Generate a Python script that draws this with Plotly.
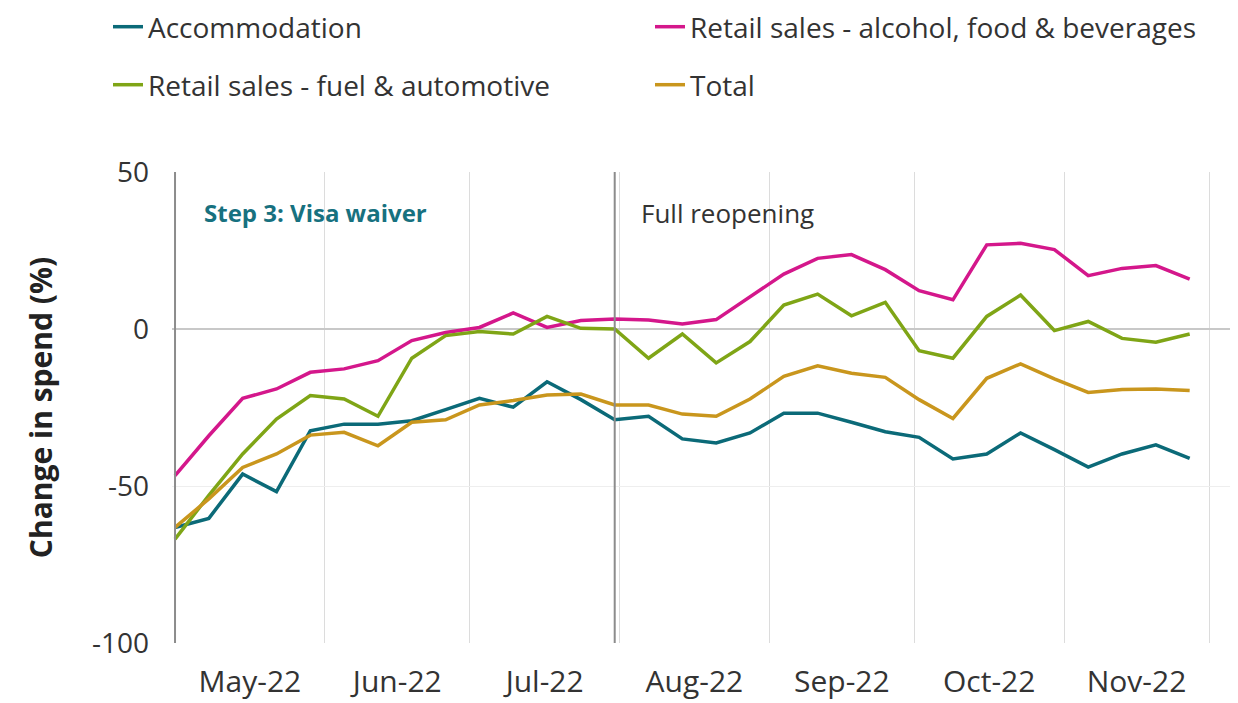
import pandas as pd
import plotly.graph_objects as go

dates = pd.date_range("2022-05-01", periods=31, freq="7D")

accommodation = [-63.2, -60.3, -46.2, -51.8, -32.4, -30.3, -30.3, -29.2, -25.7, -22.1,
                 -24.9, -16.8, -22.5, -28.9, -27.8, -35.0, -36.3, -33.1, -26.8, -26.8,
                 -29.7, -32.7, -34.5, -41.4, -39.8, -33.1, -38.4, -44.0, -39.8, -36.9, -41.2]
retail_food = [-46.7, -34.0, -22.1, -19.1, -13.8, -12.7, -10.1, -3.7, -1.1, 0.5,
               5.1, 0.5, 2.7, 3.2, 2.9, 1.6, 3.0, 10.1, 17.5, 22.5,
               23.7, 18.9, 12.2, 9.3, 26.8, 27.3, 25.3, 17.0, 19.3, 20.2, 15.9]
retail_fuel = [-66.9, -53.0, -39.8, -28.7, -21.2, -22.3, -27.8, -9.3, -2.1, -0.8,
               -1.6, 4.0, 0.2, 0.0, -9.3, -1.6, -10.8, -4.0, 7.6, 11.1,
               4.2, 8.5, -6.9, -9.3, 4.0, 10.8, -0.5, 2.4, -3.0, -4.2, -1.6]
total = [-63.2, -54.1, -44.1, -39.8, -33.8, -32.9, -37.2, -29.7, -28.9, -24.2,
         -22.8, -21.0, -20.7, -24.2, -24.2, -27.1, -27.8, -22.3, -15.1, -11.7,
         -14.1, -15.4, -22.5, -28.5, -15.7, -11.1, -15.9, -20.2, -19.3, -19.1, -19.6]

series_names = ["Accommodation", "Retail sales - alcohol, food & beverages",
                "Retail sales - fuel & automotive", "Total"]
series_values = [accommodation, retail_food, retail_fuel, total]
series_colors = ["#0b6a78", "#d4178b", "#7fa516", "#c9961d"]

y_tick_vals = [-100, -50, 0, 50]
y_tick_text = ["-100", "-50", "0", "50"]

event_dates = ["2022-05-01", "2022-07-31"]
event_labels = ["<b>Step 3: Visa waiver</b>", "Full reopening"]
event_label_colors = ["#17717f", "#333333"]
event_label_shift = [27, 24]
event_label_size = [24, 26]

FONT = "Open Sans"
W, H = 1238, 703
OFF = 8  # page body offset

# legend slot positions (container px): x of legend box, y of row centre
legend_pos = [(100, 27 - OFF), (642, 27 - OFF), (100, 85 - OFF), (642, 85 - OFF)]
legend_ids = ["legend", "legend2", "legend3", "legend4"]

fig = go.Figure()
for name, vals, col, lg in zip(series_names, series_values, series_colors, legend_ids):
    fig.add_trace(go.Scatter(x=dates, y=vals, mode="lines", name=name,
                             line=dict(color=col, width=3.5), legend=lg,
                             showlegend=True))

for d, lab, c, sh, sz in zip(event_dates, event_labels, event_label_colors,
                             event_label_shift, event_label_size):
    fig.add_shape(type="line", x0=d, x1=d, xref="x", y0=0, y1=1, yref="paper",
                  line=dict(color="#8c8c8c", width=2), layer="above")
    fig.add_annotation(x=d, y=0.913, xref="x", yref="paper", text=lab, showarrow=False,
                       xanchor="left", yanchor="middle", xshift=sh,
                       font=dict(family=FONT, size=sz, color=c))

legends = {}
for lid, (lx, ly) in zip(legend_ids, legend_pos):
    legends[lid] = dict(orientation="h", xref="container", yref="container",
                        x=lx / W, y=1 - ly / H, xanchor="left", yanchor="middle",
                        font=dict(family=FONT, size=28, color="#333333"),
                        bgcolor="rgba(0,0,0,0)")

fig.update_layout(
    width=W, height=H, showlegend=True,
    margin=dict(l=172 - OFF, r=OFF, t=172 - OFF, b=60 + OFF, autoexpand=False),
    paper_bgcolor="white", plot_bgcolor="white",
    font=dict(family=FONT, color="#333333"),
    **legends,
    xaxis=dict(type="date", range=["2022-04-30 09:00", "2022-12-07"],
               dtick="M1", tick0="2022-05-01", ticklabelmode="period",
               tickformat="%b-%y", showgrid=True, gridcolor="#dcdcdc", gridwidth=1,
               ticks="", showline=False, zeroline=False, automargin=False,
               tickfont=dict(family=FONT, size=30, color="#333333"),
               ticklabelstandoff=18),
    yaxis=dict(range=[-100, 50], tickvals=y_tick_vals, ticktext=y_tick_text,
               showgrid=True, gridcolor="#eeeeee",
               gridwidth=1, zeroline=True, zerolinecolor="#c8c8c8", zerolinewidth=2,
               ticks="", showline=False, automargin=False,
               tickfont=dict(family=FONT, size=28, color="#333333"),
               ticklabelstandoff=22,
               title=dict(text="<b>Change in spend (%)</b>", standoff=30,
                          font=dict(family=FONT, size=30, color="#222222"))),
)

fig.write_html("out.html")
